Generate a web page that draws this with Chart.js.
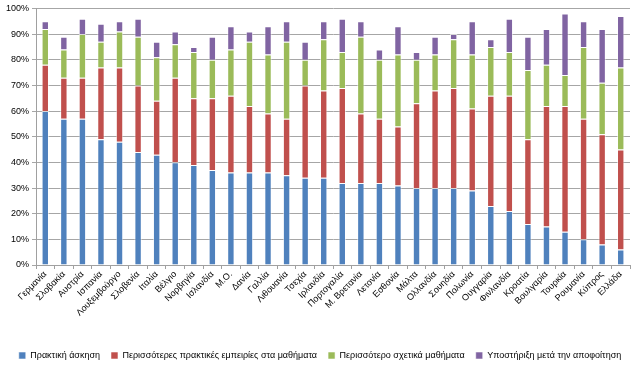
<!DOCTYPE html>
<html>
<head>
<meta charset="utf-8">
<script src="https://cdn.jsdelivr.net/npm/chart.js@4/dist/chart.umd.min.js"></script>
<style>
html,body{margin:0;padding:0;background:#fff;}
#wrap{width:640px;height:370px;position:relative;}
</style>
</head>
<body>
<div id="wrap"><canvas id="c" width="640" height="370"></canvas></div>
<script>
const categories = ["Γερμανία","Σλοβακία","Αυστρία","Ισπανία","Λουξεμβούργο","Σλοβενία","Ιταλία","Βέλγιο","Νορβηγία","Ισλανδία","Μ.Ο.","Δανία","Γαλλία","Λιθουανία","Τσεχία","Ιρλανδία","Πορτογαλία","Μ. Βρετανία","Λετονία","Εσθονία","Μάλτα","Ολλανδία","Σουηδία","Πολωνία","Ουγγαρία","Φινλανδία","Κροατία","Βουλγαρία","Τουρκία","Ρουμανία","Κύπρος","Ελλάδα"];
const seriesNames = ["Πρακτική άσκηση","Περισσότερες πρακτικές εμπειρίες στα μαθήματα","Περισσότερο σχετικά μαθήματα","Υποστήριξη μετά την αποφοίτηση"];
const practice   = [60,57,57,49,48,44,43,40,39,37,36,36,36,35,34,34,32,32,32,31,30,30,30,29,23,21,16,15,13,10,8,6];
const experience = [18,16,16,28,29,26,21,33,26,28,30,26,23,22,36,34,37,27,25,23,33,38,39,32,43,45,33,47,49,47,43,39];
const courses    = [14,11,17,10,14,19,17,13,18,15,18,25,23,30,10,20,14,30,23,28,17,14,19,21,19,17,27,16,12,28,20,32];
const support    = [3,5,6,7,4,7,6,5,2,9,9,4,11,8,7,7,13,6,4,11,3,7,2,13,3,13,13,14,24,10,21,20];
const yTicks = [0,10,20,30,40,50,60,70,80,90,100];
const colors = ["#4F81BD","#C0504D","#9BBB59","#8064A2"];

const FONT = "'Liberation Sans', Arial, sans-serif";
const values = [practice, experience, courses, support];

new Chart(document.getElementById('c'), {
  type: 'bar',
  data: {
    labels: categories,
    datasets: values.map((v, i) => ({
      label: seriesNames[i],
      data: v,
      backgroundColor: colors[i],
      borderColor: 'rgba(255,255,255,0.55)',
      borderWidth: 1,
      barPercentage: 0.42,
      categoryPercentage: 0.95
    }))
  },
  options: {
    responsive: false,
    animation: false,
    devicePixelRatio: 1,
    layout: { padding: { top: 3, right: 0, left: 0, bottom: 0 } },
    plugins: {
      tooltip: { enabled: false },
      legend: {
        position: 'bottom',
        labels: {
          boxWidth: 7, boxHeight: 7,
          padding: 11,
          color: '#000',
          font: { family: FONT, size: 9 }
        }
      }
    },
    scales: {
      x: {
        stacked: true,
        grid: { drawOnChartArea: false, drawTicks: true, tickLength: 4, color: '#a0a0a0' },
        border: { color: '#a0a0a0' },
        ticks: {
          autoSkip: false, maxRotation: 45, minRotation: 45,
          color: '#000', padding: 0,
          font: { family: FONT, size: 9 }
        },
        afterFit: (s) => { s.height = 75; }
      },
      y: {
        stacked: true,
        min: 0, max: 100,
        afterBuildTicks: (s) => { s.ticks = yTicks.map(v => ({ value: v })); },
        grid: { color: '#a6a6a6', tickLength: 4 },
        border: { color: '#a0a0a0' },
        ticks: {
          color: '#000', padding: 3,
          font: { family: FONT, size: 9 },
          callback: (v) => v + '%'
        },
        afterFit: (s) => { s.width = 36; }
      },
      yR: {
        position: 'right',
        display: true,
        grid: { display: false, drawTicks: false },
        border: { display: false },
        ticks: { display: false },
        afterFit: (s) => { s.width = 10; }
      }
    }
  }
});
</script>
</body>
</html>
